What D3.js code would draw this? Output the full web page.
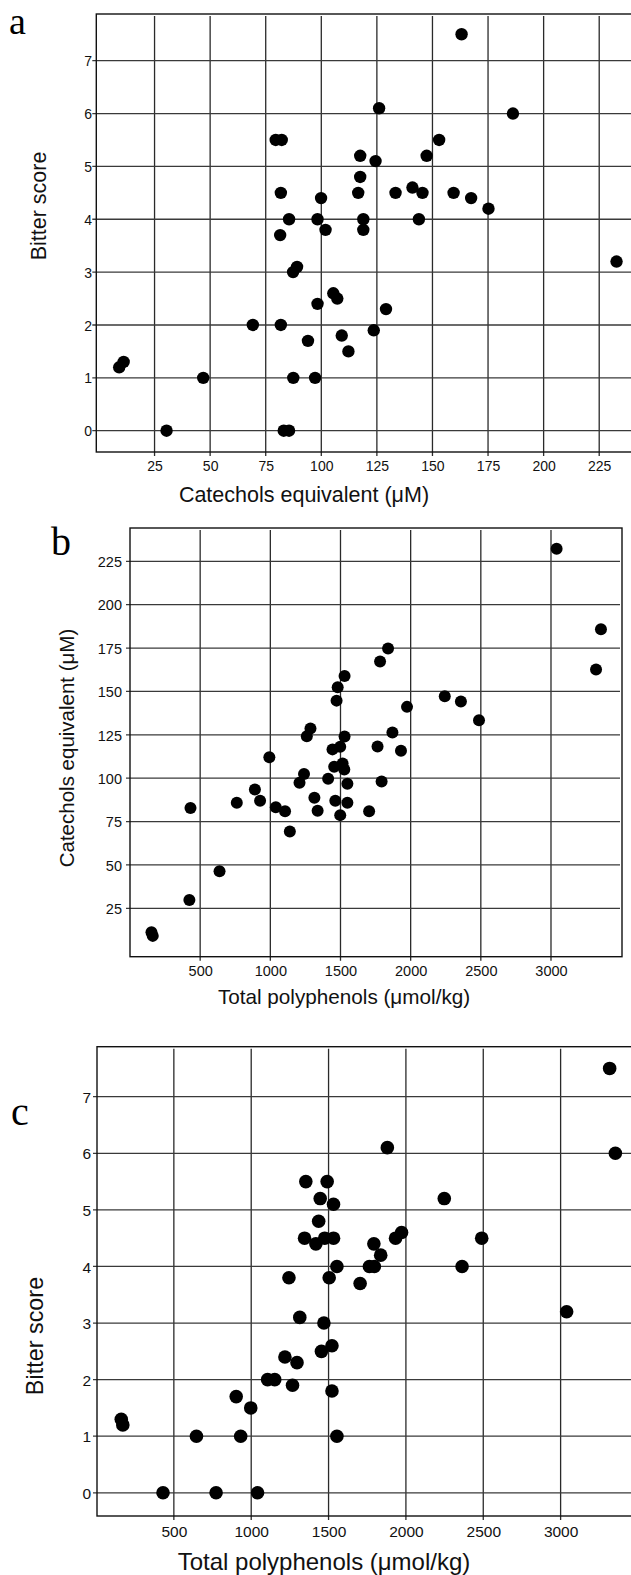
<!DOCTYPE html>
<html><head><meta charset="utf-8">
<script src="https://cdn.jsdelivr.net/npm/d3@7"></script>
<style>body{margin:0;background:#fff}svg{display:block}</style>
</head><body>
<svg id="chart" width="631" height="1575"></svg>
<script>
// Panel a: catechols equivalent (µM) vs bitter score
const aCatechols = [163.1,186.2,126.0,79.5,82.2,153.0,117.5,147.4,124.4,117.5,81.8,99.9,116.6,133.4,141.0,145.5,159.5,167.4,175.2,85.5,98.3,118.9,143.9,81.5,101.9,118.9,232.8,87.3,89.1,98.3,105.4,107.2,129.1,69.2,81.8,94.0,109.2,123.6,112.2,9.1,11.1,46.9,87.4,97.2,30.4,83.1,85.5];
const aBitter    = [7.5,6.0,6.1,5.5,5.5,5.5,5.2,5.2,5.1,4.8,4.5,4.4,4.5,4.5,4.6,4.5,4.5,4.4,4.2,4.0,4.0,4.0,4.0,3.7,3.8,3.8,3.2,3.0,3.1,2.4,2.6,2.5,2.3,2.0,2.0,1.7,1.8,1.9,1.5,1.2,1.3,1.0,1.0,1.0,0,0,0];
// Panel b: total polyphenols (µmol/kg) vs catechols equivalent (µM)
const bPolyphenols = [3040,3356,3321,1782,1839,1529,1480,1472,2243,2358,1974,2487,1286,1260,1529,1870,1764,1931,993,1443,1498,1455,1515,1527,1240,1208,1412,1549,1793,890,927,761,1039,1105,1314,1337,1463,1549,1498,1704,431,1139,638,423,153,162];
const bCatechols   = [232.3,185.9,162.7,167.3,174.8,158.9,152.4,144.7,147.2,144.2,141.1,133.4,128.6,124.2,124.0,126.3,118.3,115.8,112.1,116.6,118.1,106.6,108.5,105.0,102.4,97.4,99.7,96.8,98.1,93.5,87.0,85.8,83.2,81.0,88.7,81.2,87.0,85.8,78.7,81.0,82.8,69.3,46.3,29.8,11.2,9.1];
// Panel c: total polyphenols (µmol/kg) vs bitter score
const cPolyphenols = [3317,3354,1880,1353,1491,2248,1446,1532,1436,1345,1418,1475,1532,1793,1837,1933,1972,2490,2363,1554,1764,1796,1244,1504,1704,3039,1314,1470,1522,1454,1218,1296,1106,1152,1267,1522,903,997,160,170,646,932,1554,430,773,1041];
const cBitter      = [7.5,6.0,6.1,5.5,5.5,5.2,5.2,5.1,4.8,4.5,4.4,4.5,4.5,4.4,4.2,4.5,4.6,4.5,4.0,4.0,4.0,4.0,3.8,3.8,3.7,3.2,3.1,3.0,2.6,2.5,2.4,2.3,2.0,2.0,1.9,1.8,1.7,1.5,1.3,1.2,1.0,1.0,1.0,0,0,0];

const bitterTicks = [0,1,2,3,4,5,6,7];
const catecholTicks = [25,50,75,100,125,150,175,200,225];
const polyTicks = [500,1000,1500,2000,2500,3000];

const labelA = "a", labelB = "b", labelC = "c";
const xTitleA = "Catechols equivalent (\u03bcM)";
const yTitleA = "Bitter score";
const xTitleB = "Total polyphenols (\u03bcmol/kg)";
const yTitleB = "Catechols equivalent (\u03bcM)";
const xTitleC = "Total polyphenols (\u03bcmol/kg)";
const yTitleC = "Bitter score";

const svg = d3.select("#chart");
const SANS = "'Liberation Sans', Arial, Helvetica, sans-serif";
const SERIF = "'Liberation Serif', 'Times New Roman', serif";
const fmt = d3.format("d");

function panel(o){
  const g = svg.append("g");
  const x = d3.scaleLinear().domain(o.xDomain).range([o.left, o.right]);
  const y = d3.scaleLinear().domain(o.yDomain).range([o.bottom, o.top]);
  // gridlines
  g.selectAll("line.vg").data(o.xTicks).enter().append("line")
    .attr("x1", d=>x(d)).attr("x2", d=>x(d))
    .attr("y1", o.top+2).attr("y2", o.bottom+4)
    .attr("stroke", "#2a2a2a").attr("stroke-width", 1.3);
  g.selectAll("line.hg").data(o.yTicks).enter().append("line")
    .attr("x1", o.left-4).attr("x2", o.gridRight)
    .attr("y1", d=>y(d)).attr("y2", d=>y(d))
    .attr("stroke", "#3a3a3a").attr("stroke-width", 1.3);
  // frame
  g.append("rect").attr("x", o.left).attr("y", o.top)
    .attr("width", o.frameRight - o.left).attr("height", o.bottom - o.top)
    .attr("fill", "none").attr("stroke", "#111").attr("stroke-width", 1.4);
  // tick labels
  const xa = d3.axisBottom(x).tickValues(o.xTicks).tickFormat(fmt).tickSize(0).tickPadding(0);
  const xg = g.append("g").attr("transform", `translate(0,${o.bottom})`).call(xa);
  xg.select(".domain").remove();
  xg.selectAll("text").attr("dy", null).attr("y", o.xLabelDy)
    .attr("font-family", SANS).attr("font-size", o.tickFont).attr("fill", "#111");
  const ya = d3.axisLeft(y).tickValues(o.yTicks).tickFormat(fmt).tickSize(0).tickPadding(0);
  const yg = g.append("g").attr("transform", `translate(${o.yLabelX},0)`).call(ya);
  yg.select(".domain").remove();
  yg.selectAll("text").attr("x", 0).attr("dy", "0.36em")
    .attr("font-family", SANS).attr("font-size", o.tickFont).attr("fill", "#111");
  // points
  const pts = o.xs.map((v,i)=>[v, o.ys[i]]);
  g.selectAll("circle").data(pts).enter().append("circle")
    .attr("cx", d=>x(d[0])).attr("cy", d=>y(d[1])).attr("r", o.r).attr("fill", "#000");
  // titles
  g.append("text").attr("x", o.xTitle[1]).attr("y", o.xTitle[2]).attr("text-anchor", "middle")
    .attr("font-family", SANS).attr("font-size", o.xTitle[3]).attr("fill", "#111").text(o.xTitle[0]);
  g.append("text").attr("transform", `translate(${o.yTitle[1]},${o.yTitle[2]}) rotate(-90)`)
    .attr("text-anchor", "middle").attr("dy", "0.35em")
    .attr("font-family", SANS).attr("font-size", o.yTitle[3]).attr("fill", "#111").text(o.yTitle[0]);
  g.append("text").attr("x", o.label[1]).attr("y", o.label[2])
    .attr("font-family", SERIF).attr("font-size", o.label[3]).attr("fill", "#000").text(o.label[0]);
}

panel({
  xs: aCatechols, ys: aBitter,
  xDomain: [-1.2, 239.3], yDomain: [-0.403, 7.883],
  left: 96.3, right: 631, top: 14, bottom: 452, frameRight: 640, gridRight: 640,
  xTicks: catecholTicks, yTicks: bitterTicks,
  tickFont: 14, xLabelDy: 19, yLabelX: 92,
  r: 6.2,
  xTitle: [xTitleA, 304, 501.5, 21.5],
  yTitle: [yTitleA, 38, 206, 21.5],
  label: [labelA, 9, 34, 38]
});

panel({
  xs: bPolyphenols, ys: bCatechols,
  xDomain: [0, 3506], yDomain: [-2.9, 244.2],
  left: 130, right: 622, top: 528, bottom: 956.7, frameRight: 622, gridRight: 620,
  xTicks: polyTicks, yTicks: catecholTicks,
  tickFont: 14.5, xLabelDy: 19.5, yLabelX: 122,
  r: 6,
  xTitle: [xTitleB, 344, 1003.6, 20.7],
  yTitle: [yTitleB, 67, 748, 20.5],
  label: [labelB, 51, 555, 40]
});

panel({
  xs: cPolyphenols, ys: cBitter,
  xDomain: [3.2, 3455], yDomain: [-0.41, 7.884],
  left: 97, right: 631, top: 1046.7, bottom: 1516, frameRight: 640, gridRight: 640,
  xTicks: polyTicks, yTicks: bitterTicks,
  tickFont: 15.5, xLabelDy: 21, yLabelX: 91,
  r: 6.8,
  xTitle: [xTitleC, 324, 1570, 24],
  yTitle: [yTitleC, 35, 1336, 23.4],
  label: [labelC, 11, 1125, 40]
});
</script>
</body></html>
